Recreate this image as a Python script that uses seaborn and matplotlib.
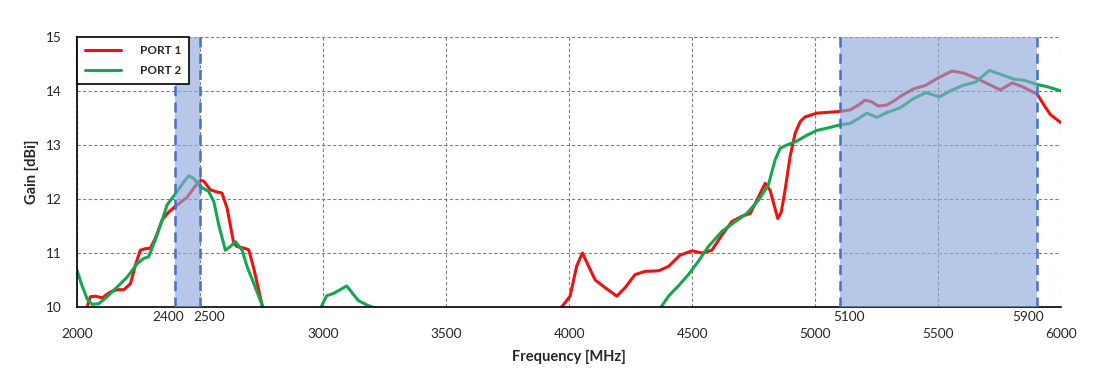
import numpy as np
import pandas as pd
import matplotlib
matplotlib.use('Agg')
import matplotlib.pyplot as plt
from matplotlib.lines import Line2D
from matplotlib.transforms import ScaledTranslation
import seaborn as sns

# Port 1 gain (segments split where the curve leaves the 10 dBi floor)
port1_freq_a = [2035, 2041, 2054, 2075, 2102, 2136, 2163, 2190, 2217, 2237, 2257, 2278, 2298, 2318,
                2346, 2373, 2404, 2447, 2474, 2501, 2515, 2542, 2569, 2589, 2610, 2637, 2650, 2678,
                2698, 2718, 2752, 2758]
port1_gain_a = [9.9, 10.0, 10.19, 10.2, 10.17, 10.28, 10.32, 10.32, 10.43, 10.77, 11.05, 11.08, 11.09, 11.27,
                11.61, 11.76, 11.88, 12.03, 12.2, 12.35, 12.33, 12.17, 12.13, 12.11, 11.83, 11.18, 11.12, 11.09,
                11.06, 10.72, 10.04, 9.9]
port1_freq_b = [3965, 3970, 4004, 4031, 4054, 4079, 4106, 4146, 4194, 4228, 4268, 4309, 4363, 4404,
                4451, 4499, 4539, 4580, 4621, 4661, 4702, 4736, 4770, 4797, 4817, 4848, 4862, 4878,
                4898, 4919, 4939, 4959, 5007, 5099, 5142, 5176, 5203, 5230, 5257, 5291, 5325, 5346,
                5400, 5447, 5495, 5556, 5604, 5658, 5712, 5753, 5801, 5842, 5903, 5930, 5957, 6000]
port1_gain_b = [9.9, 10.0, 10.2, 10.76, 11.0, 10.76, 10.5, 10.36, 10.2, 10.36, 10.6, 10.66, 10.67, 10.75,
                10.96, 11.04, 11.0, 11.05, 11.33, 11.58, 11.68, 11.73, 12.04, 12.29, 12.16, 11.64, 11.75, 12.17,
                12.78, 13.22, 13.43, 13.52, 13.59, 13.62, 13.65, 13.74, 13.83, 13.8, 13.72, 13.74, 13.83, 13.9,
                14.04, 14.1, 14.23, 14.37, 14.33, 14.23, 14.11, 14.02, 14.15, 14.08, 13.94, 13.74, 13.56, 13.41]

# Port 2 gain
port2_freq_a = [2000, 2020, 2041, 2061, 2088, 2122, 2163, 2203, 2244, 2271, 2291, 2318, 2346, 2366,
                2407, 2434, 2454, 2474, 2501, 2535, 2556, 2576, 2603, 2623, 2644, 2671, 2691, 2718,
                2752, 2758]
port2_gain_a = [10.68, 10.4, 10.15, 10.05, 10.06, 10.19, 10.37, 10.55, 10.8, 10.9, 10.93, 11.24, 11.61, 11.89,
                12.14, 12.32, 12.43, 12.38, 12.23, 12.14, 11.95, 11.52, 11.05, 11.12, 11.21, 11.05, 10.75, 10.44,
                10.04, 9.9]
port2_freq_b = [2990, 2995, 3015, 3042, 3096, 3143, 3177, 3211, 3215]
port2_gain_b = [9.9, 10.03, 10.21, 10.25, 10.39, 10.12, 10.04, 9.98, 9.9]
port2_freq_c = [4368, 4374, 4404, 4444, 4485, 4526, 4566, 4621, 4675, 4722, 4770, 4810, 4837, 4858,
                4885, 4925, 4966, 5007, 5047, 5099, 5142, 5176, 5210, 5251, 5291, 5346, 5400, 5451,
                5505, 5549, 5604, 5650, 5677, 5708, 5753, 5807, 5848, 5903, 5943, 6000]
port2_gain_c = [9.9, 10.0, 10.2, 10.39, 10.6, 10.85, 11.12, 11.4, 11.58, 11.73, 11.98, 12.26, 12.72, 12.94,
                13.0, 13.07, 13.18, 13.27, 13.31, 13.37, 13.4, 13.49, 13.59, 13.51, 13.6, 13.69, 13.86, 13.97,
                13.89, 14.0, 14.11, 14.16, 14.26, 14.38, 14.31, 14.22, 14.2, 14.12, 14.08, 14.0]

bands = [(2400, 2500), (5100, 5900)]
major_ticks = [2000, 3000, 3500, 4000, 4500, 5000, 5500, 6000]
minor_ticks = [2400, 2500, 5100, 5900]
gain_ticks = [10, 11, 12, 13, 14, 15]

segments = [
    ('PORT 1', 'a', port1_freq_a, port1_gain_a),
    ('PORT 1', 'b', port1_freq_b, port1_gain_b),
    ('PORT 2', 'a', port2_freq_a, port2_gain_a),
    ('PORT 2', 'b', port2_freq_b, port2_gain_b),
    ('PORT 2', 'c', port2_freq_c, port2_gain_c),
]
df = pd.concat([pd.DataFrame({'freq': f, 'gain': g, 'port': p, 'part': p + s})
                for p, s, f, g in segments], ignore_index=True)

sns.set_style('white')
plt.rcParams['font.family'] = ['Lato', 'DejaVu Sans']

colors = {'PORT 1': '#ee1111', 'PORT 2': '#12a84f'}

fig = plt.figure(figsize=(11.1, 3.76), dpi=100)
ax = fig.add_axes([0.0694, 0.1835, 0.8866, 0.7181])

sns.lineplot(data=df, x='freq', y='gain', hue='port', units='part', estimator=None,
             sort=False, palette=colors, linewidth=2.2, legend=False, ax=ax, zorder=2)

for lo, hi in bands:
    ax.axvspan(lo, hi, color=(140/255, 167/255, 217/255), alpha=0.63, lw=0, zorder=3)
    for x in (lo, hi):
        ax.axvline(x, color='#4472c4', lw=1.8, ls=(0, (4, 2.5)), zorder=4)

ax.set_xlim(2000, 6000)
ax.set_ylim(10, 15)
ax.set_xticks(major_ticks)
ax.set_xticks(minor_ticks, minor=True)
ax.set_xticklabels([str(t) for t in minor_ticks], minor=True)
ax.set_yticks(gain_ticks)

ax.tick_params(axis='x', which='major', length=0, pad=15, labelsize=9.8)
ax.tick_params(axis='x', which='minor', length=0, pad=3, labelsize=9.8)
ax.tick_params(axis='y', length=0, pad=11, labelsize=9.8)

# the band-edge labels sit a little off their ticks in the original, nudge them (pixels)
nudges = [-7, 9, 9, -8]
for lab, dx in zip(ax.get_xticklabels(minor=True), nudges):
    lab.set_transform(lab.get_transform() + ScaledTranslation(dx / 100, 0, fig.dpi_scale_trans))

# gray dashed grid, including the 2500 line hidden behind the band edge
ax.grid(True, which='major', color='#808080', ls=(0, (3, 2)), lw=0.8)
ax.axvline(2500, color='#808080', ls=(0, (3, 2)), lw=0.8, zorder=0.5)
ax.set_axisbelow(True)
for s in ('top', 'right'):
    ax.spines[s].set_visible(False)
for s in ('left', 'bottom'):
    ax.spines[s].set_color('black')
    ax.spines[s].set_linewidth(1.2)

ax.set_xlabel('Frequency [MHz]', fontsize=10.5, fontweight='bold', labelpad=7)
ax.set_ylabel('Gain [dBi]', fontsize=10.5, fontweight='bold', labelpad=5)

handles = [Line2D([], [], color=colors[p], lw=2.2) for p in ('PORT 1', 'PORT 2')]
leg = ax.legend(handles, ['PORT 1', 'PORT 2'], loc='upper left', bbox_to_anchor=(0, 1),
                borderaxespad=0, fancybox=False, framealpha=1, edgecolor='black',
                prop={'weight': 'bold', 'size': 8.5}, handlelength=3.0, handletextpad=1.6,
                borderpad=0.7, labelspacing=0.75)
leg.get_frame().set_linewidth(1.2)
leg.set_zorder(10)

fig.savefig('out.png', dpi=100)
